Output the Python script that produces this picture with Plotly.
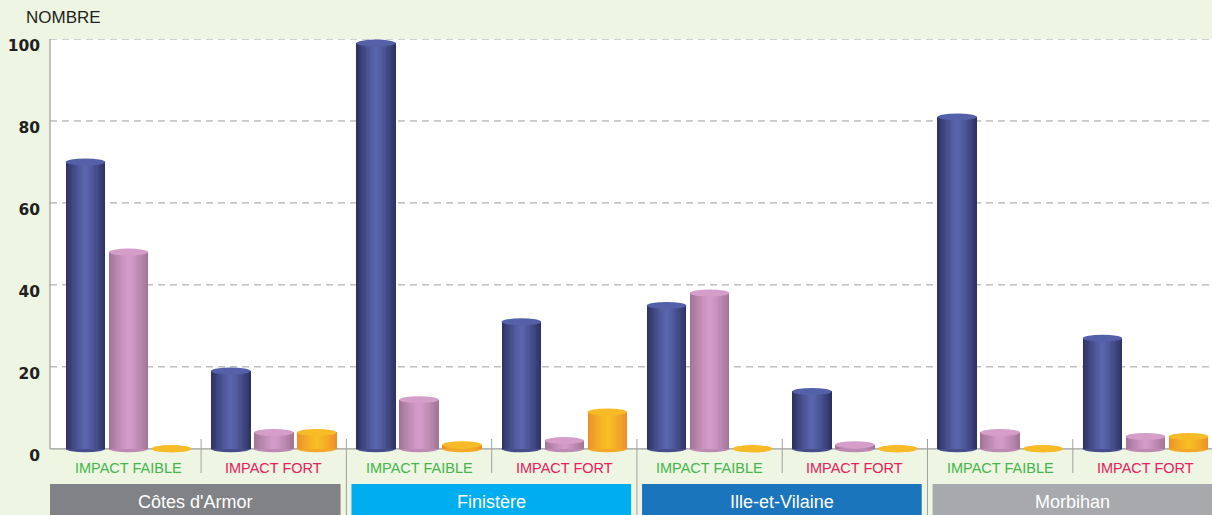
import numpy as np
import plotly.graph_objects as go

# ---------------- data ----------------
departments = ["Côtes d'Armor", "Finistère", "Ille-et-Vilaine", "Morbihan"]
impact_labels = ["IMPACT FAIBLE", "IMPACT FORT"]
series_blue = [70, 19, 99, 31, 35, 14, 81, 27]
series_pink = [48, 4, 12, 2, 38, 1, 4, 3]
series_orange = [0, 4, 1, 9, 0, 0, 0, 3]
y_ticks = [0, 20, 40, 60, 80, 100]
y_title = "NOMBRE"

# ---------------- styles ----------------
BG = "#eef5e3"
FONT = "Liberation Sans, Arial, sans-serif"
dept_colors = ["#808285", "#00aeef", "#1b75bc", "#a7a9ac"]
impact_colors = ["#45b54b", "#e5215f"]
series = [
    dict(values=series_blue, edge=(44, 48, 96), center=(90, 102, 174), top="#5461a8"),
    dict(values=series_pink, edge=(160, 115, 148), center=(212, 156, 202), top="#d49ec9"),
    dict(values=series_orange, edge=(237, 142, 42), center=(248, 191, 36), top="#f7bb28"),
]

W, H = 1212, 515
T, B, L, R = 39, 58, 50, 0
Y_MIN, Y_MAX = -2, 100
X_MIN, X_MAX = -0.54, 7.458
BAR_STEP = 0.296
BAR_W = 0.272
EH = 0.85          # half height of the cylinder ellipses (data units)
N_LAYERS = 16

plot_h = H - T - B
plot_bottom = H - B


def py_to_paper(py):
    return (plot_bottom - py) / plot_h


def mix(a, b, t):
    return "rgb(%d,%d,%d)" % tuple(round(a[i] + (b[i] - a[i]) * t) for i in range(3))


n_cat = len(series_blue)
cats = np.arange(n_cat)

fig = go.Figure()
shapes_below = []
shapes_above = []

# white plotting area above zero
shapes_below.append(dict(type="rect", xref="paper", yref="y", x0=0, x1=1, y0=0, y1=Y_MAX,
                         fillcolor="white", line=dict(width=0), layer="below"))
# dashed grid lines
for v in y_ticks:
    if v > 0:
        shapes_below.append(dict(type="line", xref="paper", yref="y", x0=0, x1=1, y0=v, y1=v,
                                 line=dict(color="#9d9d9d", width=1, dash="7px,5px"), layer="below"))
# zero line and y axis line
shapes_below.append(dict(type="line", xref="paper", yref="y", x0=0, x1=1, y0=0, y1=0,
                         line=dict(color="#9d9d9d", width=1.2), layer="below"))
shapes_below.append(dict(type="line", xref="paper", yref="y", x0=0, x1=0, y0=0, y1=Y_MAX,
                         line=dict(color="#9d9d9d", width=1.2), layer="below"))

for s_idx, s in enumerate(series):
    xs = cats + (s_idx - 1) * BAR_STEP
    vals = np.array(s["values"], dtype=float)
    for i in range(N_LAYERS):
        f = 1 - i / N_LAYERS
        r = 1 - (i + 0.5) / N_LAYERS
        t = 1 - r ** 1.25
        fig.add_trace(go.Bar(
            x=xs, y=vals, width=BAR_W * f, base=0,
            marker=dict(color=mix(s["edge"], s["center"], t), line=dict(width=0)),
            hoverinfo="skip", showlegend=False,
        ))
    for xc, v in zip(xs, vals):
        # bottom ellipse
        shapes_below.append(dict(type="circle", xref="x", yref="y",
                                 x0=xc - BAR_W / 2, x1=xc + BAR_W / 2, y0=-EH, y1=EH,
                                 fillcolor=mix(s["edge"], s["center"], 0.55),
                                 line=dict(width=0), layer="below"))
        # top ellipse
        shapes_above.append(dict(type="circle", xref="x", yref="y",
                                 x0=xc - BAR_W / 2, x1=xc + BAR_W / 2, y0=v - EH, y1=v + EH,
                                 fillcolor=s["top"], line=dict(width=0), layer="above"))

# separators and department boxes
deco = []
annotations = []
for k in range(n_cat - 1):
    x = k + 0.5
    long_sep = (k % 2 == 1)
    deco.append(dict(type="line", xref="x", yref="paper", x0=x, x1=x,
                     y0=py_to_paper(439), y1=py_to_paper(520 if long_sep else 473),
                     line=dict(color="#a0a0a0", width=1), layer="above"))

for d, name in enumerate(departments):
    x0 = X_MIN if d == 0 else 2 * d - 0.465
    x1 = X_MAX + 0.1 if d == len(departments) - 1 else 2 * d + 1.46
    deco.append(dict(type="rect", xref="x", yref="paper", x0=x0, x1=x1,
                     y0=py_to_paper(484), y1=py_to_paper(530),
                     fillcolor=dept_colors[d], line=dict(width=0), layer="above"))
    annotations.append(dict(x=(max(x0, X_MIN) + min(x1, X_MAX)) / 2, xref="x",
                            y=py_to_paper(502), yref="paper", text=name, showarrow=False,
                            xanchor="center", yanchor="middle",
                            font=dict(family=FONT, size=18, color="white")))

for k in range(n_cat):
    j = k % 2
    annotations.append(dict(x=k, xref="x", y=py_to_paper(468), yref="paper",
                            text=impact_labels[j], showarrow=False,
                            xanchor="center", yanchor="middle",
                            font=dict(family=FONT, size=14.5, color=impact_colors[j])))

annotations.append(dict(x=(24 - L) / (W - L - R), xref="paper", y=py_to_paper(17), yref="paper",
                        text=y_title, showarrow=False, xanchor="left", yanchor="middle",
                        font=dict(family=FONT, size=17, color="#231f20")))

fig.update_layout(
    width=W, height=H,
    margin=dict(l=L, r=R, t=T, b=B, pad=0),
    paper_bgcolor=BG, plot_bgcolor=BG,
    barmode="overlay", bargap=0,
    shapes=shapes_below + shapes_above + deco,
    annotations=annotations,
    xaxis=dict(range=[X_MIN, X_MAX], visible=False, fixedrange=True),
    yaxis=dict(range=[Y_MIN, Y_MAX], tickvals=y_ticks, ticktext=[str(v) for v in y_ticks],
               showgrid=False, zeroline=False, showline=False, ticks="",
               tickfont=dict(family="DejaVu Sans, sans-serif", size=15.5, color="#231f20",
                             weight="bold"),
               ticklabelshift=7, ticklabelstandoff=9, fixedrange=True),
    showlegend=False,
)

fig.write_html("out.html", config={"displayModeBar": False},
               post_script="document.body.style.margin='0px';document.body.style.overflow='hidden';")
